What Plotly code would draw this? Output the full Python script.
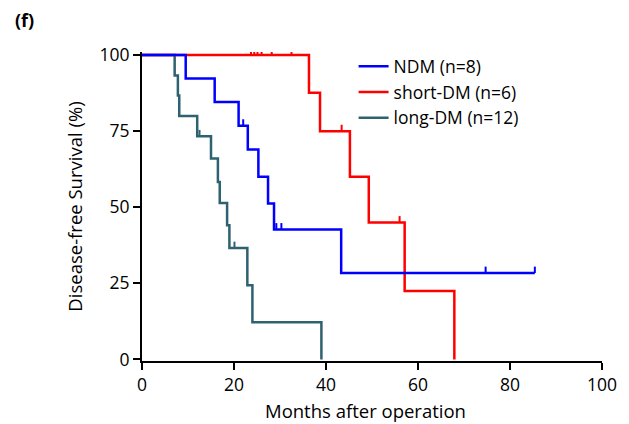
import plotly.graph_objects as go

# ---- data ----
ndm_times = [9.5, 15.8, 21.0, 23.0, 25.3, 27.4, 28.7, 43.3]
ndm_surv = [92.3, 84.6, 76.8, 69.0, 60.0, 51.2, 42.7, 28.4]
ndm_end = 85.4
ndm_censor = [22.0, 29.2, 30.3, 74.7, 85.4]

sdm_times = [36.3, 38.7, 45.2, 49.3, 57.1, 67.9]
sdm_surv = [87.6, 75.0, 60.0, 45.0, 22.5, 0.0]
sdm_end = 67.9
sdm_censor = [23.7, 24.4, 25.1, 26.0, 28.2, 32.5, 43.4, 56.0]

ldm_times = [7.1, 7.8, 8.1, 12.0, 15.0, 16.5, 16.9, 18.5, 19.0, 22.9, 24.0, 39.0]
ldm_surv = [93.3, 86.7, 80.0, 73.3, 66.0, 58.3, 51.4, 44.1, 36.6, 24.4, 12.2, 0.0]
ldm_end = 39.0
ldm_censor = [12.5, 20.1]

names = ["NDM (n=8)", "short-DM (n=6)", "long-DM (n=12)"]
colors = ["#0000ff", "#ff0000", "#2e6270"]
x_ticks = [0, 20, 40, 60, 80, 100]
y_ticks = [0, 25, 50, 75, 100]

series = [
    (ndm_times, ndm_surv, ndm_end, ndm_censor),
    (sdm_times, sdm_surv, sdm_end, sdm_censor),
    (ldm_times, ldm_surv, ldm_end, ldm_censor),
]

TICK_H = 2.1  # censor tick height in % units
FONT = "Open Sans"


def surv_at(t, times, surv):
    s = 100.0
    for ti, si in zip(times, surv):
        if ti <= t:
            s = si
    return s


fig = go.Figure()
draw_order = [2, 1, 0]  # long-DM below, NDM on top
ranks = {0: 1, 1: 2, 2: 3}
for i in draw_order:
    times, surv, end, cens = series[i]
    xs = [0] + times + [end]
    ys = [100] + surv + [surv[-1]]
    fig.add_trace(go.Scatter(
        x=xs, y=ys, mode="lines", line=dict(color=colors[i], width=2.5, shape="hv"),
        name=names[i], legendgroup=names[i], legendrank=ranks[i],
    ))
    cx, cy = [], []
    for t in cens:
        s = surv_at(t, times, surv)
        cx += [t, t, None]
        cy += [s, s + TICK_H, None]
    fig.add_trace(go.Scatter(
        x=cx, y=cy, mode="lines", line=dict(color=colors[i], width=2),
        showlegend=False, legendgroup=names[i], hoverinfo="skip",
    ))

axis_common = dict(
    showline=True, linecolor="black", linewidth=2, ticks="outside",
    ticklen=7, tickwidth=2, tickcolor="black", showgrid=False, zeroline=False,
    tickfont=dict(family=FONT, size=17.5, color="black"),
    title_font=dict(family=FONT, size=18.5, color="black"),
    automargin=False,
)

W, H = 629, 424
L, R, T, B = 141.5, 27.3, 51.7, 63.2
pw, ph = W - L - R, H - T - B


def px_to_paper(px, py):
    return (px - L) / pw, 1 - (py - T) / ph


xt_x, xt_y = px_to_paper(365.5, 410.5)
f_x, f_y = px_to_paper(12, 20)

fig.update_layout(
    width=W, height=H,
    margin=dict(l=L, r=R, t=T, b=B),
    plot_bgcolor="white", paper_bgcolor="white",
    xaxis=dict(range=[0, 100], tickvals=x_ticks, **axis_common),
    yaxis=dict(range=[-0.5, 101], tickvals=y_ticks, title=dict(text="Disease-free Survival (%)", standoff=12), **axis_common),
    legend=dict(x=0.46, y=1.012, xanchor="left", yanchor="top", bgcolor="rgba(0,0,0,0)",
                font=dict(family=FONT, size=17.5, color="black"), tracegroupgap=0),
    showlegend=True,
    annotations=[
        dict(text="Months after operation", xref="paper", yref="paper", showarrow=False,
             x=xt_x, y=xt_y, xanchor="center", yanchor="middle",
             font=dict(family=FONT, size=18.5, color="black")),
        dict(text="<b>(f)</b>", xref="paper", yref="paper", showarrow=False,
             x=f_x, y=f_y, xanchor="left", yanchor="middle",
             font=dict(family=FONT, size=18, color="black")),
    ],
)

fig.write_html("out.html")
